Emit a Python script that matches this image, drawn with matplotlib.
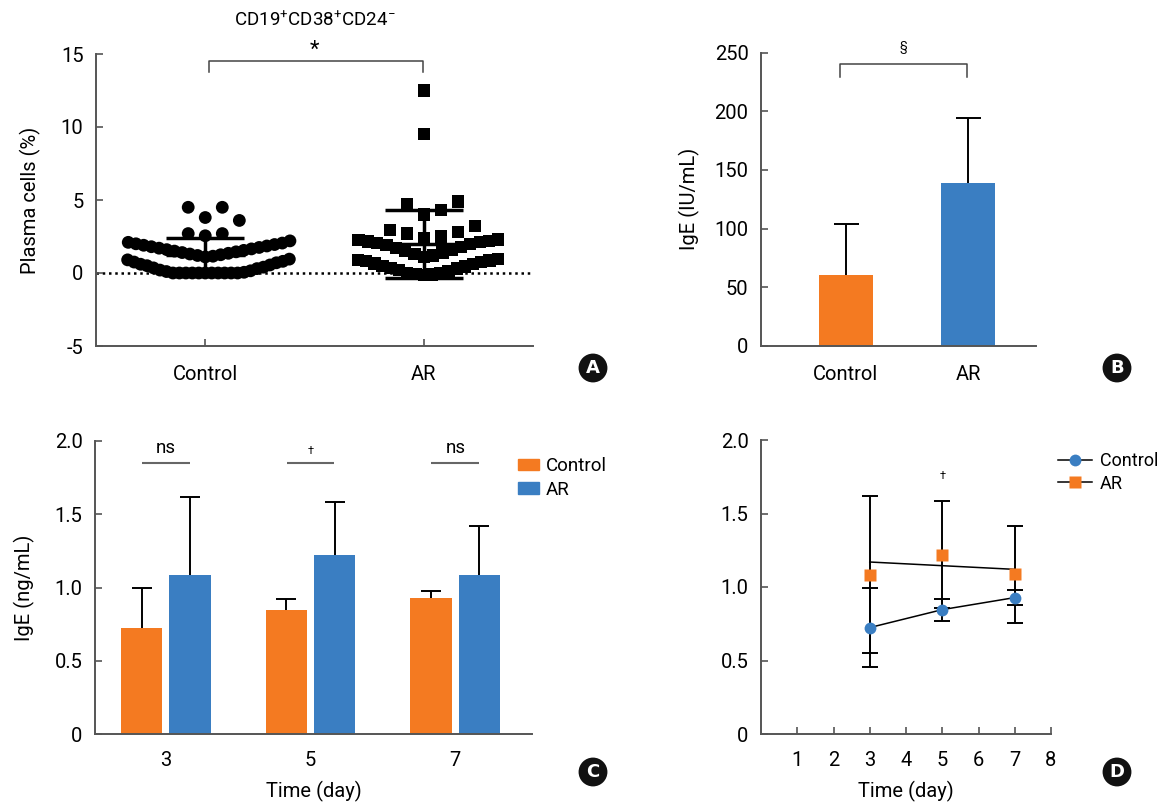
import numpy as np
import matplotlib

matplotlib.use("Agg")
import matplotlib.pyplot as plt
from matplotlib.patches import Patch
from matplotlib.lines import Line2D

plt.rcParams["font.family"] = ["Roboto", "DejaVu Sans"]
plt.rcParams["mathtext.default"] = "regular"
plt.rcParams["axes.unicode_minus"] = False

ORANGE = "#f47a21"
BLUE = "#3a7ec2"
SPINE = "#555555"

# panel A: plasma cells (%) per subject
control_cells = [0, 0, 0, 0, 0, 0, 0, 0, 0, 0, 0, 0.05, 0.1, 0.15, 0.2, 0.3, 0.35,
                 0.4, 0.5, 0.55, 0.6, 0.7, 0.75, 0.8, 0.9, 0.95,
                 1.1, 1.15, 1.2, 1.25, 1.3, 1.35, 1.4, 1.45, 1.5, 1.55, 1.6,
                 1.65, 1.7, 1.75, 1.8, 1.85, 1.9, 1.95, 2.0, 2.05, 2.1, 2.2,
                 2.55, 2.7, 2.7, 3.6, 3.8, 4.5, 4.5]
ar_cells = [-0.15, -0.1, -0.05, 0, 0, 0.1, 0.2, 0.3, 0.35, 0.45, 0.5, 0.6,
            0.65, 0.75, 0.8, 0.85, 0.9, 0.95,
            1.1, 1.2, 1.3, 1.4, 1.5, 1.6, 1.7, 1.8, 1.9, 2.0, 2.05, 2.1,
            2.15, 2.2, 2.25, 2.3,
            2.4, 2.5, 2.7, 2.8, 2.95, 3.2,
            4.0, 4.3, 4.75, 4.9, 9.5, 12.5]

# panel B: serum IgE
groups = ["Control", "AR"]
ige_serum = [60.5, 138.6]
ige_serum_sd = [43.5, 56.0]

# panels C and D: IgE by day
days = [3, 5, 7]
ige_ctrl = [0.724, 0.846, 0.928]
ige_ctrl_sd = [0.27, 0.075, 0.05]
ige_ar = [1.085, 1.22, 1.088]
ige_ar_sd = [0.535, 0.365, 0.33]
ar_trend = [1.17, 1.145, 1.12]
sig_labels = ["ns", "\u2020", "ns"]


def swarm_x(values, center, row_h=1.3, row_lo=-0.25, step=0.078, half_w=0.37):
    vals = np.asarray(values, float)
    xs = np.empty_like(vals)
    rows = np.floor((vals - row_lo) / row_h).astype(int)
    for r in np.unique(rows):
        idx = np.where(rows == r)[0]
        idx = idx[np.argsort(vals[idx], kind="stable")]
        n = len(idx)
        dx = min(step, 2 * half_w / max(n - 1, 1))
        for k, i in enumerate(idx):
            off = (k + 1) // 2 * (1 if k % 2 else -1)
            xs[i] = center + off * dx
    return xs


def style(ax):
    for s in ("top", "right"):
        ax.spines[s].set_visible(False)
    for s in ("left", "bottom"):
        ax.spines[s].set_color(SPINE)
        ax.spines[s].set_linewidth(1.4)
    ax.tick_params(direction="in", length=5, width=1.2, color=SPINE,
                   labelsize=14.5, pad=9)


def up_errorbar(ax, x, vals, sds, capsize):
    # one-sided (upward) error bars, lower caps hidden
    _, caps, _ = ax.errorbar(x, vals, yerr=[np.zeros(len(sds)), sds], fmt="none",
                             ecolor="black", elinewidth=1.4, capsize=capsize,
                             capthick=1.4, zorder=1)
    for cl in caps:
        if np.allclose(cl.get_ydata(), vals):
            cl.set_visible(False)


W, H = 1158, 808
fig = plt.figure(figsize=(W / 100, H / 100), dpi=100)


def px_axes(left, top, right, bottom):
    return fig.add_axes([left / W, 1 - bottom / H, (right - left) / W, (bottom - top) / H])


# ---------- A ----------
ax = px_axes(96, 54, 533, 346)
style(ax)
ax.axhline(0, color="black", ls=(0, (1, 1.5)), lw=1.8, zorder=1)
for pos, vals, mk, hw in [(1, control_cells, "o", 0.37), (2, ar_cells, "s", 0.32)]:
    xs = swarm_x(vals, pos, half_w=hw)
    ax.scatter(xs, vals, s=85 if mk == "o" else 78, marker=mk, color="black",
               edgecolors="none", zorder=2)
    m, sd = np.mean(vals), np.std(vals, ddof=1)
    ax.errorbar([pos], [m], yerr=[sd], color="black", lw=2.5, capsize=28,
                capthick=2.5, zorder=3)
    ax.hlines(m, pos - 0.18, pos + 0.18, color="black", lw=2.5, zorder=3)
ax.set_xlim(0.5, 2.5)
ax.set_ylim(-5, 15)
ax.set_yticks([-5, 0, 5, 10, 15])
ax.set_xticks([1, 2], labels=groups)
ax.tick_params(axis="x", pad=14)
ax.set_ylabel("Plasma cells (%)", fontsize=14.5, labelpad=14)
ax.plot([1.017, 1.017, 1.997, 1.997], [13.8, 14.5, 14.5, 13.8], color="#444444",
        lw=1.1, clip_on=False)
ax.text(1.5, 14.85, "*", ha="center", va="baseline", fontsize=16, clip_on=False)
ax.text(1.5, 17.3, r"CD19$^{+}$CD38$^{+}$CD24$^{-}$", ha="center", va="center",
        fontsize=13.5, clip_on=False)

# ---------- B ----------
ax = px_axes(761, 52.7, 1036, 345.7)
style(ax)
xb = np.arange(len(groups))
ax.bar(xb, ige_serum, width=0.44, color=[ORANGE, BLUE], zorder=2)
up_errorbar(ax, xb, ige_serum, ige_serum_sd, 9)
ax.set_xlim(-0.69, 1.55)
ax.set_ylim(0, 250)
ax.set_yticks(range(0, 251, 50))
ax.set_xticks(xb, labels=groups)
ax.tick_params(axis="x", length=0, pad=14)
ax.set_ylabel("IgE (IU/mL)", fontsize=14.5, labelpad=10)
ax.plot([-0.05, -0.05, 0.99, 0.99], [229, 240, 240, 229], color="#444444", lw=1.1,
        clip_on=False)
ax.text(0.47, 250, "\u00a7", ha="center", va="bottom", fontsize=9, clip_on=False)

# ---------- C ----------
ax = px_axes(95, 441, 532, 734)
style(ax)
xc = np.arange(len(days))
bw, off = 0.286, 0.167
ax.bar(xc - off, ige_ctrl, width=bw, color=ORANGE, label="Control", zorder=2)
ax.bar(xc + off, ige_ar, width=bw, color=BLUE, label="AR", zorder=2)
up_errorbar(ax, xc - off, ige_ctrl, ige_ctrl_sd, 7)
up_errorbar(ax, xc + off, ige_ar, ige_ar_sd, 7)
for i, lab in enumerate(sig_labels):
    ax.hlines(1.85, i - 0.165, i + 0.165, color="#666666", lw=1.5)
    if lab == "ns":
        ax.text(i, 1.89, lab, ha="center", va="bottom", fontsize=13.5)
    else:
        ax.text(i, 1.90, lab, ha="center", va="bottom", fontsize=8)
ax.set_xlim(-0.49, 2.53)
ax.set_ylim(0, 2.0)
ax.set_yticks([0, 0.5, 1.0, 1.5, 2.0], labels=["0", "0.5", "1.0", "1.5", "2.0"])
ax.set_xticks(xc, labels=[str(d) for d in days])
ax.tick_params(axis="x", length=0, pad=12)
ax.set_xlabel("Time (day)", fontsize=14.5, labelpad=8)
ax.set_ylabel("IgE (ng/mL)", fontsize=14.5, labelpad=14)
ax.legend(handles=[Patch(color=ORANGE, label="Control"), Patch(color=BLUE, label="AR")],
          loc="upper left", bbox_to_anchor=((518 - 95) / 437, (734 - 457) / 293),
          frameon=False, fontsize=13.5, handlelength=1.1, handleheight=0.55,
          handletextpad=0.4, labelspacing=0.3, borderpad=0, borderaxespad=0)

# ---------- D ----------
ax = px_axes(761, 440, 1051, 734)
style(ax)
ax.plot(days, ige_ctrl, color="black", lw=1.1, zorder=2)
ax.plot(days, ar_trend, color="black", lw=1.1, zorder=2)
ax.errorbar(days, ige_ctrl, yerr=ige_ctrl_sd, fmt="none", ecolor="black",
            elinewidth=1.4, capsize=5.5, capthick=1.4, zorder=1)
ax.errorbar(days, ige_ar, yerr=ige_ar_sd, fmt="none", ecolor="black",
            elinewidth=1.4, capsize=5.5, capthick=1.4, zorder=1)
ax.plot(days, ige_ctrl, "o", color=BLUE, ms=8.5, mec="none", zorder=3)
ax.plot(days, ige_ar, "s", color=ORANGE, ms=8.5, mec="none", zorder=3)
ax.text(5, 1.72, "\u2020", ha="center", va="bottom", fontsize=8)
ax.set_xlim(0, 8)
ax.set_ylim(0, 2.0)
ax.set_xticks(range(1, 9))
ax.set_yticks([0, 0.5, 1.0, 1.5, 2.0], labels=["0", "0.5", "1.0", "1.5", "2.0"])
ax.tick_params(axis="x", pad=12)
ax.set_xlabel("Time (day)", fontsize=14.5, labelpad=8)
ax.legend(handles=[
    Line2D([], [], color="black", lw=1.1, marker="o", mfc=BLUE, mec="none", ms=8.5,
           label="Control"),
    Line2D([], [], color="black", lw=1.1, marker="s", mfc=ORANGE, mec="none", ms=8.5,
           label="AR")],
    loc="upper left", bbox_to_anchor=((1058 - 761) / 290, (734 - 452) / 294),
    frameon=False, fontsize=13, handlelength=1.9, handletextpad=0.4,
    labelspacing=0.25, borderpad=0, borderaxespad=0)

# panel letters
for lab, (x, y) in {"A": (593, 368), "B": (1117, 368), "C": (593, 772),
                    "D": (1117, 772)}.items():
    fig.text(x / W, 1 - y / H, lab, ha="center", va="center", color="white",
             fontsize=13, fontweight="bold", family="DejaVu Sans",
             bbox=dict(boxstyle="circle,pad=0.3", fc="#111111", ec="none"))

fig.savefig("out.png", dpi=100)
